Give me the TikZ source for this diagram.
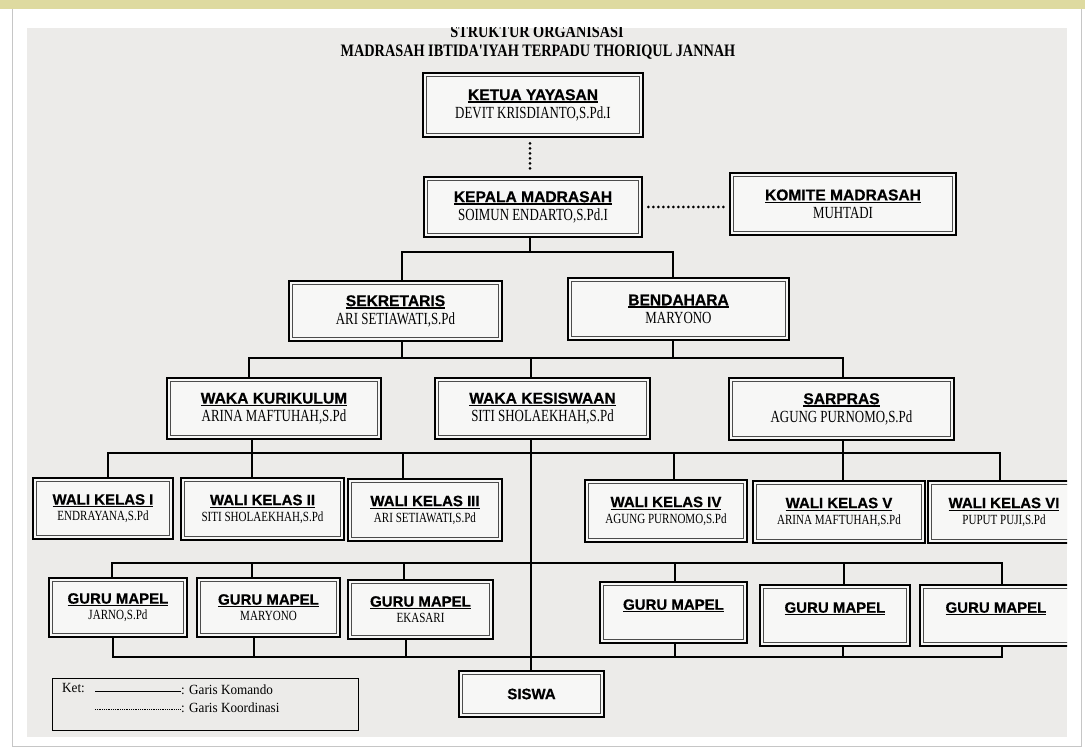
\documentclass[tikz,border=0pt]{standalone}
\usepackage{fontspec}
\setmainfont{Liberation Serif}
\newfontfamily\hdfont[FakeBold=0.6]{Liberation Sans}
\newfontfamily\nmfont[FakeStretch=0.76]{Liberation Serif}
\newfontfamily\nsfont[FakeStretch=0.79]{Liberation Serif}
\newfontfamily\titlefnt[FakeStretch=0.815]{Liberation Serif}
\newfontfamily\legfnt[FakeStretch=0.94]{Liberation Serif}
\definecolor{paper}{RGB}{236,235,233}
\definecolor{boxfill}{RGB}{247,247,246}
\definecolor{band}{RGB}{222,218,160}
\newcommand\ulhd[1]{\leavevmode\vtop{\hbox{\hdfont\bfseries #1}\kern1.2pt\hrule height 1.1pt}}
\newcommand\bnm[1]{{\nmfont\fontsize{17}{18}\selectfont #1}}
\newcommand\snm[1]{{\nsfont\fontsize{14}{16}\selectfont #1}}
\tikzset{
  orgbox/.style={draw=black, line width=2.6pt, fill=boxfill, inner sep=0pt, align=center,
    path picture={\draw[line width=0.9pt,black!70]
      ([shift={(3.6pt,3.6pt)}]path picture bounding box.south west) rectangle
      ([shift={(-3.6pt,-3.6pt)}]path picture bounding box.north east);}},
  bigbox/.style={orgbox, font=\fontsize{15.6}{18}\selectfont},
  smallbox/.style={orgbox, font=\fontsize{15}{16}\selectfont},
  cmd/.style={line width=2pt, black},
  coordline/.style={line width=3pt, line cap=round, dash pattern=on 0pt off 5pt, black},
}
\newcommand\ob[7][bigbox]{\node[#1, minimum width={#5-#3}, minimum height={#6-#4}] (#2) at ({(#3+#5)/2},{(#4+#6)/2}) {#7};}
\begin{document}
\begin{tikzpicture}[x=1pt,y=-1pt]
\useasboundingbox (0,0) rectangle (1085,749);
\fill[white] (0,0) rectangle (1085,749);
\fill[band] (0,0) rectangle (1085,9);
\draw[gray!45, line width=1pt] (12,9) -- (12,746) -- (1081,746) -- (1081,9);
\begin{scope}
\clip (27,28) rectangle (1067,737);
\fill[paper] (27,28) rectangle (1067,737);
\node[anchor=base, font=\titlefnt\bfseries\fontsize{17.5}{20}\selectfont] (t1) at (537,38) {STRUKTUR ORGANISASI};
\node[anchor=base, font=\titlefnt\bfseries\fontsize{17.5}{20}\selectfont] (t2) at (538,57) {MADRASAH IBTIDA'IYAH TERPADU THORIQUL JANNAH};
% boxes
\ob{ketua}{423}{73}{643}{137}{\ulhd{KETUA YAYASAN}\\\bnm{DEVIT KRISDIANTO,S.Pd.I}}
\ob{kepala}{424}{177}{642}{237}{\ulhd{KEPALA MADRASAH}\\\bnm{SOIMUN ENDARTO,S.Pd.I}}
\ob{komite}{730}{173}{956}{235}{\ulhd{KOMITE MADRASAH}\\\bnm{MUHTADI}}
\ob{sek}{289}{281}{502}{341}{\ulhd{SEKRETARIS}\\\bnm{ARI SETIAWATI,S.Pd}}
\ob{bend}{568}{278}{789}{340}{\ulhd{BENDAHARA}\\\bnm{MARYONO}}
\ob{wk}{167}{378}{381}{439}{\ulhd{WAKA KURIKULUM}\\\bnm{ARINA MAFTUHAH,S.Pd}}
\ob{wks}{435}{378}{650}{439}{\ulhd{WAKA KESISWAAN}\\\bnm{SITI SHOLAEKHAH,S.Pd}}
\ob{sar}{729}{378}{954}{440}{\ulhd{SARPRAS}\\\bnm{AGUNG PURNOMO,S.Pd}}
\ob[smallbox]{w1}{33}{478}{173}{539}{\ulhd{WALI KELAS I}\\\snm{ENDRAYANA,S.Pd}}
\ob[smallbox]{w2}{181}{478}{344}{540}{\ulhd{WALI KELAS II}\\\snm{SITI SHOLAEKHAH,S.Pd}}
\ob[smallbox]{w3}{348}{479}{502}{541}{\ulhd{WALI KELAS III}\\\snm{ARI SETIAWATI,S.Pd}}
\ob[smallbox]{w4}{585}{480}{747}{542}{\ulhd{WALI KELAS IV}\\\snm{AGUNG PURNOMO,S.Pd}}
\ob[smallbox]{w5}{753}{481}{925}{543}{\ulhd{WALI KELAS V}\\\snm{ARINA MAFTUHAH,S.Pd}}
\ob[smallbox]{w6}{928}{481}{1080}{543}{\ulhd{WALI KELAS VI}\\\snm{PUPUT PUJI,S.Pd}}
\ob[smallbox]{g1}{49}{578}{187}{637}{\ulhd{GURU MAPEL}\\\snm{JARNO,S.Pd}}
\ob[smallbox]{g2}{197}{578}{340}{637}{\ulhd{GURU MAPEL}\\\snm{MARYONO}}
\ob[smallbox]{g3}{348}{580}{493}{639}{\ulhd{GURU MAPEL}\\\snm{EKASARI}}
\ob[smallbox]{g4}{600}{582}{747}{643}{\ulhd{GURU MAPEL}\\\snm{\phantom{M}}}
\ob[smallbox]{g5}{760}{585}{910}{646}{\ulhd{GURU MAPEL}\\\snm{\phantom{M}}}
\ob[smallbox]{g6}{920}{585}{1072}{646}{\ulhd{GURU MAPEL}\\\snm{\phantom{M}}}
\ob[smallbox]{siswa}{459}{671}{604}{717}{\hdfont\bfseries SISWA}
% connectors: coordination (dotted)
\draw[coordline, shorten <=5pt, shorten >=4pt] (530,0 |- ketua.south) -- (530,0 |- kepala.north);
\draw[coordline, shorten <=5pt, shorten >=4pt] (kepala.east) -- (kepala.east -| komite.west);
% command lines
\draw[cmd] (530,0 |- kepala.south) -- (530,252);
\draw[cmd] (402,0 |- sek.north) -- (402,252) -- (673,252) -- (673,0 |- bend.north);
\draw[cmd] (402,0 |- sek.south) -- (402,357.5);
\draw[cmd] (673,0 |- bend.south) -- (673,357.5);
\draw[cmd] (249,0 |- wk.north) -- (249,357.5) -- (843,357.5) -- (843,0 |- sar.north);
\draw[cmd] (531,357.5) -- (531,0 |- wks.north);
\draw[cmd] (252,0 |- wk.south) -- (252,452.5);
\draw[cmd] (843,0 |- sar.south) -- (843,452.5);
\draw[cmd] (531,0 |- wks.south) -- (531,0 |- siswa.north);
\draw[cmd] (108,0 |- w1.north) -- (108,452.5) -- (1000,452.5) -- (1000,0 |- w6.north);
\foreach \x/\n in {252/w2,403/w3,674/w4,843/w5} \draw[cmd] (\x,452.5) -- (\x,0 |- \n.north);
\draw[cmd] (112,0 |- g1.north) -- (112,562.5) -- (1002,562.5) -- (1002,0 |- g6.north);
\foreach \x/\n in {252/g2,404/g3,675/g4,844/g5} \draw[cmd] (\x,562.5) -- (\x,0 |- \n.north);
\draw[cmd] (113,0 |- g1.south) -- (113,657) -- (1002,657) -- (1002,0 |- g6.south);
\foreach \x/\n in {254/g2,406/g3,675/g4,843/g5} \draw[cmd] (\x,657) -- (\x,0 |- \n.south);
% legend
\node[draw=black, line width=0.9pt, minimum width=306pt, minimum height=52pt, inner sep=0pt] (leg) at (205,704) {};
\node[anchor=base west, font=\legfnt\fontsize{14}{16}\selectfont, inner sep=0pt] (ket) at (62,692) {Ket:};
\coordinate (ls1) at (95,691);
\coordinate (ls2) at (181,691);
\coordinate (ld1) at (95,709);
\coordinate (ld2) at (181,709);
\draw[line width=0.8pt] (ls1) -- (ls2);
\draw[line width=1pt, dash pattern=on 0.9pt off 0.9pt] (ld1) -- (ld2);
\node[anchor=base west, font=\legfnt\fontsize{14}{16}\selectfont, inner sep=0pt] (lk) at (181,694) {: Garis Komando};
\node[anchor=base west, font=\legfnt\fontsize{14}{16}\selectfont, inner sep=0pt] (lo) at (181,712) {: Garis Koordinasi};
\end{scope}
\end{tikzpicture}
\end{document}
